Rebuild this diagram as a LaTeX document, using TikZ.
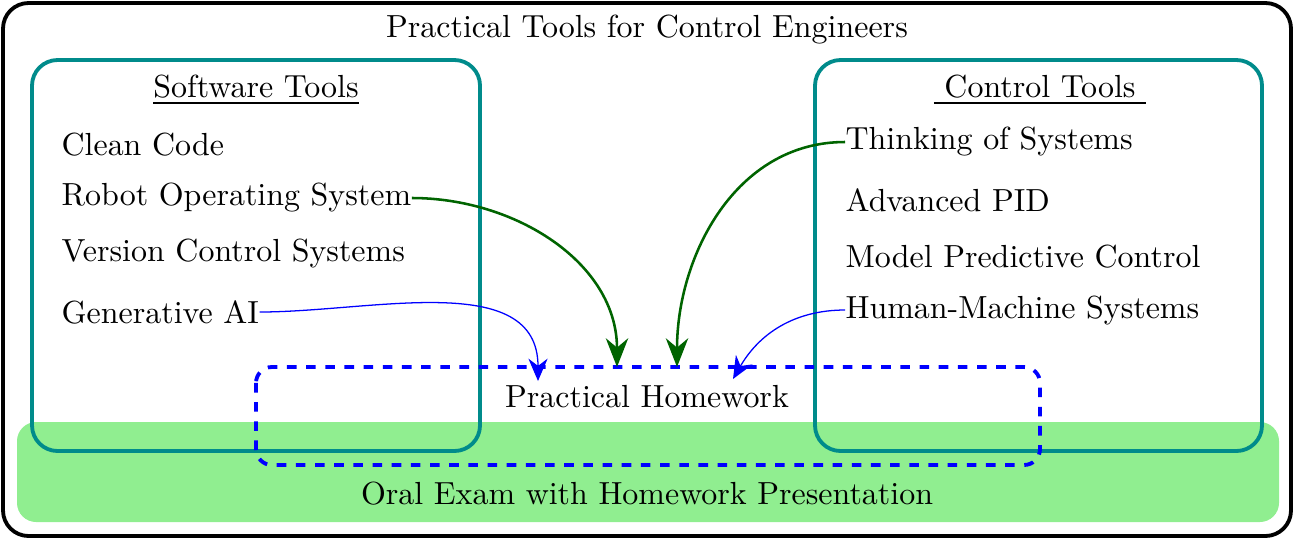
\documentclass[tikz,border=0pt]{standalone}
\usepackage{tikz}
\usetikzlibrary{arrows.meta, positioning}

\definecolor{boxteal}{RGB}{0,139,139}
\definecolor{examgreen}{RGB}{144,238,144}
\definecolor{linkgreen}{RGB}{0,100,0}

\tikzset{
    item/.style={anchor=west, inner sep=0pt},
    toolbox/.style={draw=boxteal, line width=1.2pt, rounded corners=8pt},
    strong/.style={-{Stealth[length=9pt,width=7pt]}, linkgreen, thick},
    light/.style={-{Stealth[length=7pt,width=6pt]}, blue}
}

\begin{document}
\begin{tikzpicture}[x=0.011cm, y=-0.011cm]
    \useasboundingbox (0,0) rectangle (1294,539);

    % Outer frame and title
    \draw[line width=1.2pt, rounded corners=8pt] (3,3) rectangle (1291,536);
    \node (title) at (647,30) {Practical Tools for Control Engineers};

    % Exam bar
    \fill[examgreen, rounded corners=6pt] (17,422) rectangle (1279,522);
    \node (exam) at (647,494) {Oral Exam with Homework Presentation};

    % Tool boxes
    \draw[toolbox] (32,60) rectangle (480,451);
    \draw[toolbox] (815,60) rectangle (1262,451);

    % Homework box
    \draw[blue, dashed, line width=1.2pt, rounded corners=5pt] (256,367) rectangle (1040,465);
    \node (hw) at (647,397) {Practical Homework};

    % Software side
    \node (sw) at (256,90) {\underline{Software Tools}};
    \node[item] (clean) at (61,145) {Clean Code};
    \node[item] (ros) at (61,198) {Robot Operating System};
    \node[item] (vcs) at (61,253) {Version Control Systems};
    \node[item] (genai) at (61,312) {Generative AI};

    % Control side
    \node (ct) at (1040,90) {\underline{ Control Tools }};
    \node[item] (sys) at (845,142) {Thinking of Systems};
    \node[item] (pid) at (845,200) {Advanced PID};
    \node[item] (mpc) at (845,257) {Model Predictive Control};
    \node[item] (hms) at (845,310) {Human-Machine Systems};

    % Connectors
    \coordinate (rosend) at (617,367);
    \coordinate (sysend) at (677,367);
    \coordinate (aiend) at (538,381);
    \coordinate (hmsend) at (733,379);

    \draw[strong] (ros.east) to[out=0, in=90] (rosend);
    \draw[strong] (sys.west) to[out=180, in=90] (sysend);
    \draw[light] (genai.east) to[out=0, in=90] (aiend);
    \draw[light] (hms.west) to[out=180, in=60] (hmsend);
\end{tikzpicture}
\end{document}
